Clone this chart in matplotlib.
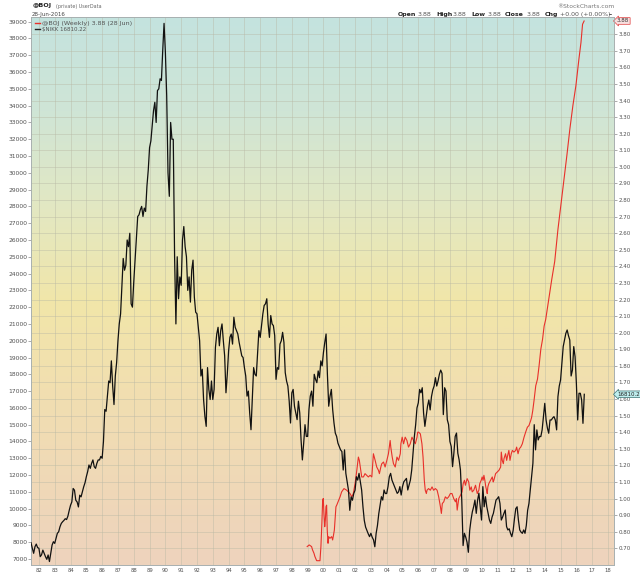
import numpy as np
import matplotlib
matplotlib.use("Agg")
import matplotlib.pyplot as plt
from matplotlib.colors import LinearSegmentedColormap

plt.rcParams['font.family'] = ['DejaVu Sans']

# ---------------- data ----------------
NIKKEI_START = 1981.5  # July 1981, one value per month
NIKKEI = [
    7970, 7640, 7340, 7730, 7890, 7680,                                        # 1981 Jul-Dec
    7640, 7140, 7250, 7530, 7340, 7140, 6980, 7240, 6850, 7340, 7830, 8030,    # 1982
    7930, 8230, 8530, 8620, 8920, 9120, 9220, 9300, 9400, 9350, 9550, 9890,    # 1983
    10200, 10400, 11200, 11100, 10500, 10400, 10100, 10800, 10700, 11000, 11300, 11540,  # 1984
    11900, 12200, 12600, 12400, 12700, 12900, 12500, 12400, 12700, 12900, 12900, 13110,  # 1985
    13000, 14000, 15900, 15800, 16700, 17600, 17500, 18800, 17300, 16200, 17900, 18700,  # 1986
    20000, 21000, 21600, 23300, 24900, 24200, 24500, 26000, 25600, 26400, 22200, 22000,  # 1987
    23500, 24800, 26200, 27400, 27500, 27800, 28000, 27400, 27900, 27700, 29200, 30160,  # 1988
    31500, 31900, 32800, 33700, 34200, 33000, 34900, 35000, 35600, 35500, 37300, 38900,  # 1989
    37200, 34600, 30000, 28600, 33000, 32000, 32000, 25000, 21000, 25000, 22500, 23800,  # 1990
    23300, 26000, 26800, 25600, 25000, 23000, 23800, 22300, 24200, 24800, 22600, 21700,  # 1991
    21600, 20800, 20000, 17900, 18300, 16500, 15500, 14900, 18400, 17100, 16500, 17600,  # 1992
    16500, 17100, 19600, 20400, 20800, 19700, 20600, 21000, 20000, 19100, 16900, 18000,  # 1993
    19400, 20200, 20400, 19800, 21400, 20800, 20600, 20400, 19900, 19500, 19100, 19000,  # 1994
    18400, 17900, 16700, 17000, 15700, 14700, 16600, 18400, 18000, 17900, 19200, 20600,  # 1995
    20200, 20900, 21600, 22100, 22200, 22500, 21000, 20200, 21500, 21000, 20900, 20300,  # 1996
    17700, 18400, 18300, 19800, 20000, 20500, 19900, 18100, 17600, 17300, 16400, 15100,  # 1997
    16900, 17100, 16100, 15700, 15300, 16400, 15700, 14100, 12900, 13900, 15000, 14300,  # 1998
    14300, 15900, 16700, 17000, 16100, 18000, 17700, 17500, 18200, 17800, 18800, 18500,  # 1999
    19300, 19900, 20400, 18000, 16100, 16700, 17100, 15900, 15100, 14500, 14300, 13900,  # 2000
    13700, 13500, 13400, 12300, 13500, 12100, 11600, 11100, 9900, 10700, 10500, 10900,   # 2001
    11100, 11900, 11700, 12100, 11600, 11100, 10100, 9300, 8900, 8700, 8500, 8330,       # 2002
    8530, 8300, 8140, 7730, 8530, 9000, 9700, 10200, 10710, 10510, 11110, 10900,         # 2003
    10900, 11310, 11900, 12100, 11700, 11500, 11310, 11110, 10910, 11000, 11310, 10810,  # 2004
    11310, 11600, 11700, 11800, 11110, 11400, 11700, 12300, 13290, 14290, 15000, 16000,  # 2005
    16300, 17100, 16900, 17200, 15700, 14900, 15500, 16100, 16470, 15880, 16670, 17070,  # 2006
    17300, 17800, 17300, 17600, 18000, 18250, 18060, 15600, 17200, 17000, 15300, 15000,  # 2007
    14000, 13700, 12500, 13300, 14300, 14500, 13300, 12900, 12300, 10500, 7800, 8530,    # 2008
    8300, 8000, 7400, 8700, 9320, 9800, 10110, 10510, 9720, 10500, 10920, 10110,         # 2009
    9320, 11310, 10110, 10710, 10110, 9720, 9320, 9120, 9500, 9720, 10110, 10510,        # 2010
    10600, 10710, 10310, 9320, 9500, 9720, 9920, 8930, 8730, 8800, 8530, 8330,           # 2011
    8700, 9400, 10000, 10110, 9320, 8730, 8600, 8530, 8730, 8530, 9000, 9900,            # 2012
    10310, 11110, 11900, 12700, 15000, 13500, 14690, 14090, 14300, 14290, 14690, 15480,  # 2013
    16270, 15280, 14800, 14490, 15280, 15280, 15400, 15480, 15280, 14690, 16670, 17300,  # 2014
    17660, 18650, 19650, 20040, 20440, 20640, 20300, 20040, 17900, 18250, 19650, 19050,  # 2015
    17460, 15280, 16870, 16870, 16470, 15080, 16810,                                     # 2016 Jan-Jul
]

BOJ_T = [
    1998.97, 1999.10, 1999.25, 1999.31, 1999.40, 1999.46, 1999.57, 1999.78, 1999.84, 1999.90,
    1999.95, 1999.99, 2000.03, 2000.08, 2000.12, 2000.16, 2000.20, 2000.24, 2000.29, 2000.33,
    2000.41, 2000.52, 2000.58, 2000.62, 2000.69, 2000.73, 2000.79, 2000.84, 2000.97, 2001.05,
    2001.15, 2001.30, 2001.47, 2001.58, 2001.68, 2001.79, 2001.89, 2002.00, 2002.11, 2002.21,
    2002.27, 2002.36, 2002.42, 2002.53, 2002.63, 2002.74, 2002.84, 2002.95, 2003.06, 2003.16,
    2003.27, 2003.37, 2003.48, 2003.54, 2003.63, 2003.69, 2003.80, 2003.90, 2004.01, 2004.11,
    2004.22, 2004.26, 2004.35, 2004.43, 2004.54, 2004.65, 2004.75, 2004.86, 2004.90, 2004.98,
    2005.07, 2005.17, 2005.28, 2005.38, 2005.49, 2005.60, 2005.70, 2005.81, 2005.92, 2005.96,
    2006.02, 2006.13, 2006.23, 2006.30, 2006.38, 2006.44, 2006.51, 2006.55, 2006.65, 2006.76,
    2006.87, 2006.97, 2007.08, 2007.19, 2007.29, 2007.40, 2007.46, 2007.52, 2007.61, 2007.71,
    2007.82, 2007.92, 2008.03, 2008.13, 2008.24, 2008.35, 2008.41, 2008.46, 2008.56, 2008.67,
    2008.77, 2008.84, 2008.92, 2008.98, 2009.09, 2009.19, 2009.26, 2009.35, 2009.41, 2009.51,
    2009.62, 2009.73, 2009.83, 2009.89, 2009.98, 2010.04, 2010.10, 2010.15, 2010.21, 2010.27,
    2010.32, 2010.36, 2010.40, 2010.46, 2010.57, 2010.68, 2010.74, 2010.78, 2010.89, 2011.00,
    2011.10, 2011.21, 2011.25, 2011.31, 2011.38, 2011.42, 2011.52, 2011.59, 2011.63, 2011.73,
    2011.80, 2011.88, 2011.95, 2012.05, 2012.16, 2012.22, 2012.31, 2012.39, 2012.48, 2012.58,
    2012.69, 2012.79, 2012.90, 2013.00, 2013.11, 2013.17, 2013.24, 2013.32, 2013.43, 2013.54,
    2013.64, 2013.75, 2013.86, 2013.96, 2014.06, 2014.25, 2014.44, 2014.63, 2014.83, 2015.02,
    2015.21, 2015.40, 2015.59, 2015.78, 2015.97, 2016.16, 2016.29, 2016.39, 2016.49,
]
BOJ_V = [
    0.71, 0.72, 0.71, 0.69, 0.67, 0.65, 0.625, 0.625, 0.71, 0.85,
    0.99, 1.00, 0.91, 0.83, 0.87, 0.95, 0.96, 0.81, 0.73, 0.77,
    0.76, 0.77, 0.75, 0.77, 0.81, 0.87, 0.95, 0.96, 0.99, 1.01,
    1.04, 1.06, 1.05, 1.04, 1.03, 1.01, 1.03, 1.09, 1.17, 1.25,
    1.23, 1.17, 1.13, 1.13, 1.15, 1.14, 1.13, 1.14, 1.13, 1.27,
    1.23, 1.19, 1.17, 1.15, 1.19, 1.21, 1.22, 1.19, 1.23, 1.27,
    1.35, 1.31, 1.25, 1.21, 1.19, 1.25, 1.23, 1.27, 1.33, 1.37,
    1.33, 1.37, 1.35, 1.31, 1.33, 1.37, 1.35, 1.33, 1.37, 1.40,
    1.40, 1.39, 1.33, 1.25, 1.11, 1.05, 1.03, 1.05, 1.06, 1.05,
    1.07, 1.05, 1.06, 1.05, 1.01, 0.95, 0.91, 0.97, 0.98, 1.01,
    1.00, 1.01, 1.03, 1.03, 1.00, 0.98, 1.00, 0.93, 1.00, 1.02,
    1.04, 1.09, 1.11, 1.08, 1.12, 1.10, 1.05, 1.07, 1.04, 1.05,
    1.08, 1.03, 1.05, 1.09, 1.11, 1.13, 1.11, 1.14, 1.11, 1.07,
    1.05, 1.03, 1.07, 1.09, 1.11, 1.13, 1.10, 1.11, 1.15, 1.16,
    1.17, 1.19, 1.28, 1.23, 1.21, 1.24, 1.27, 1.23, 1.25, 1.29,
    1.23, 1.27, 1.29, 1.28, 1.29, 1.31, 1.27, 1.30, 1.31, 1.33,
    1.37, 1.40, 1.43, 1.44, 1.47, 1.49, 1.53, 1.59, 1.68, 1.72,
    1.80, 1.90, 1.96, 2.04, 2.08, 2.20, 2.32, 2.43, 2.62, 2.77,
    2.92, 3.07, 3.23, 3.37, 3.49, 3.65, 3.75, 3.86, 3.88,
]

YEAR_TICKS = list(range(1982, 2019))
YEAR_LABELS = ["%02d" % (y % 100) for y in YEAR_TICKS]
LEFT_TICKS = list(range(7000, 39001, 1000))
RIGHT_TICKS = [round(0.70 + 0.10 * i, 2) for i in range(32)]
RIGHT_LABELS = ["%.2f" % v for v in RIGHT_TICKS]

BOJ_LAST = "3.88"
NIKK_LAST = "16810.2"

# ---------------- figure ----------------
W, H = 640, 576
fig = plt.figure(figsize=(W / 100, H / 100), dpi=100)
fig.patch.set_facecolor("white")

L, R, T, B = 31, 614, 17, 565
ax = fig.add_axes([L / W, 1 - B / H, (R - L) / W, (B - T) / H])

# gradient background
cmap = LinearSegmentedColormap.from_list(
    "bg",
    [(0.0, "#c4e3df"), (0.17, "#cfe5d6"), (0.35, "#e3e8c2"),
     (0.52, "#f1e6a9"), (0.70, "#f1deb1"), (1.0, "#eed3bd")])
grad = np.linspace(0, 1, 512).reshape(-1, 1)
ax.imshow(grad, aspect="auto", cmap=cmap, extent=[0, 1, 0, 1],
          transform=ax.transAxes, origin="upper", zorder=0, interpolation="bilinear")

axn = ax.twinx()

# BOJ (right scale) on ax
ax.plot(BOJ_T, BOJ_V, color="#e8302a", lw=0.8, zorder=3)
ax.set_xlim(1981.5, 2018.38)
ax.set_ylim(0.599, 3.904)
ax.set_xticks(YEAR_TICKS)
ax.set_xticklabels(YEAR_LABELS)
ax.set_yticks(RIGHT_TICKS)
ax.set_yticklabels(RIGHT_LABELS)
ax.set_axisbelow(True)
ax.grid(True, color="#b8b8a4", lw=0.6, alpha=0.5)
ax.yaxis.tick_right()
ax.tick_params(axis="y", which="both", right=True, left=False, labelright=True,
               labelleft=False, length=2, width=0.5, color="#8a8a8a",
               labelsize=4.0, labelcolor="#505050", pad=1)
ax.tick_params(axis="x", length=0, labelsize=3.9, labelcolor="#505050", pad=2.5)

# Nikkei (left scale)
nk_x = NIKKEI_START + np.arange(len(NIKKEI)) / 12.0
axn.plot(nk_x, NIKKEI, color="#111111", lw=0.9, zorder=4)
axn.set_ylim(6643, 39280)
axn.set_yticks(LEFT_TICKS)
axn.set_yticklabels([str(v) for v in LEFT_TICKS])
axn.yaxis.tick_left()
axn.tick_params(axis="y", length=2, width=0.5, color="#8a8a8a",
                labelsize=4.3, labelcolor="#505050", pad=0.6)
axn.set_xlim(1981.5, 2018.38)

for a in (ax, axn):
    for s in a.spines.values():
        s.set_color("#a8b0b0")
        s.set_linewidth(0.6)

# value boxes on the right
ax.annotate(BOJ_LAST, xy=(1.0, 3.88), xycoords=("axes fraction", "data"),
            xytext=(2.2, 0), textcoords="offset points", fontsize=4.0,
            color="#333333", va="center", ha="left", annotation_clip=False,
            bbox=dict(boxstyle="larrow,pad=0.15", fc="#f8dede", ec="#e04040", lw=0.5))
axn.annotate(NIKK_LAST, xy=(1.0, 16810), xycoords=("axes fraction", "data"),
             xytext=(2.2, 0), textcoords="offset points", fontsize=4.0,
             color="#222222", va="center", ha="left", annotation_clip=False,
             bbox=dict(boxstyle="larrow,pad=0.15", fc="#bfeeee", ec="#3a7070", lw=0.5))

# legend inside the plot
def fx(x):
    return x / W

def fy(y):
    return 1 - y / H

fig.add_artist(plt.Line2D([fx(35), fx(40)], [fy(23), fy(23)], color="#e8302a", lw=1.0))
fig.add_artist(plt.Line2D([fx(35), fx(40)], [fy(29), fy(29)], color="#222222", lw=1.0))
fig.text(fx(42), fy(23), "@BOJ (Weekly) 3.88 (28 Jun)", fontsize=4.6, color="#555555",
         va="center", ha="left")
fig.text(fx(42), fy(29), "$NIKK 16810.22", fontsize=4.0, color="#555555",
         va="center", ha="left")

# header
fig.text(fx(33), fy(6), "@BOJ", fontsize=4.6, fontweight="bold", color="#222222",
         va="center", ha="left")
fig.text(fx(56), fy(6.5), "(private) UserData", fontsize=3.5, color="#666666",
         va="center", ha="left")
fig.text(fx(32), fy(14.5), "28-Jun-2016", fontsize=4.0, color="#444444",
         va="center", ha="left")
fig.text(fx(614), fy(6), "\u00aeStockCharts.com", fontsize=4.3, color="#777777",
         va="center", ha="right")

hdr = [(398, "Open", True), (418, "3.88", False), (436, "High", True), (453, "3.88", False),
       (471, "Low", True), (488, "3.88", False), (505, "Close", True), (527, "3.88", False),
       (545, "Chg", True), (560, "+0.00 (+0.00%)", False), (609, "\u2013", True)]
for x, s, bold in hdr:
    fig.text(fx(x), fy(14.7), s, fontsize=4.5, color="#222222" if bold else "#555555",
             fontweight="bold" if bold else "normal", va="center", ha="left")

fig.savefig("out.png", dpi=100)
